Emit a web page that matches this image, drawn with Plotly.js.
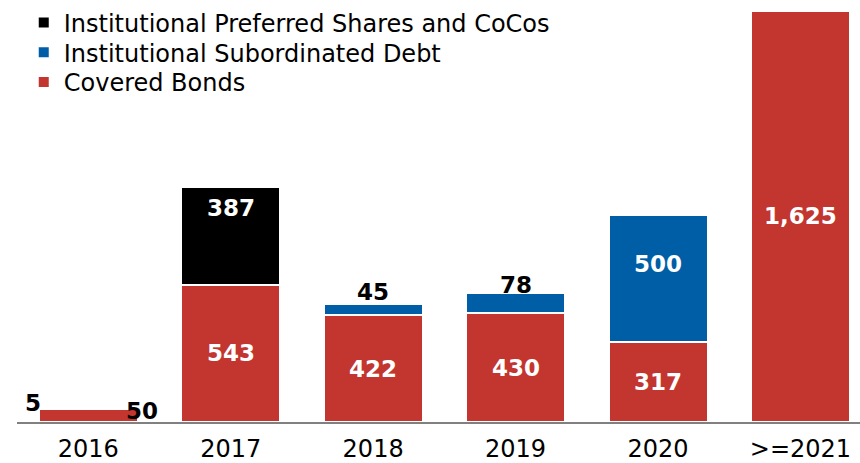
<!DOCTYPE html>
<html>
<head>
<meta charset="utf-8">
<script src="https://cdn.plot.ly/plotly-3.0.1.min.js"></script>
<style>html,body{margin:0;padding:0;background:#fff;}#chart{width:860px;height:463px;}</style>
</head>
<body>
<div id="chart"></div>
<script>
// ---- data ----
const categories = ['2016', '2017', '2018', '2019', '2020', '>=2021'];
const coveredBonds = [50, 543, 422, 430, 317, 1625];
const subordinatedDebt = [0, 0, 45, 78, 500, 0];
const preferredShares = [5, 387, 0, 0, 0, 0];
const seriesNames = ['Covered Bonds', 'Institutional Subordinated Debt', 'Institutional Preferred Shares and CoCos'];

// ---- styles ----
const colors = ['#C3352F', '#005EA6', '#000000'];
const FONT = 'DejaVu Sans, sans-serif';
const PLOT_H = 422;

function bar(name, y, color, legendId) {
  return {
    type: 'bar', name: name, x: categories, y: y,
    marker: {color: color, line: {color: '#ffffff', width: 2}},
    legend: legendId,
    hoverinfo: 'skip'
  };
}
const traces = [
  bar(seriesNames[0], coveredBonds, colors[0], 'legend3'),
  bar(seriesNames[1], subordinatedDebt, colors[1], 'legend2'),
  bar(seriesNames[2], preferredShares, colors[2], 'legend')
];

// ---- labels, positioned from data ----
const annotations = [];
function fmt(v) { return v.toLocaleString('en-US'); }
function lab(i, y, v, color, xshift, yshift) {
  annotations.push({
    x: i, y: y, xref: 'x', yref: 'y', text: '<b>' + fmt(v) + '</b>',
    showarrow: false, font: {family: FONT, size: 23, color: color},
    xshift: xshift, yshift: yshift, xanchor: 'center', yanchor: 'middle'
  });
}
categories.forEach((c, i) => {
  const cb = coveredBonds[i], sd = subordinatedDebt[i], ps = preferredShares[i];
  if (i === 0) {
    lab(i, cb / 2, cb, '#000', 54, 5);
    lab(i, cb + ps, ps, '#000', -55, 5);
    return;
  }
  if (cb) lab(i, cb / 2, cb, '#fff', 0, 0);
  if (sd) {
    if (sd < 100) lab(i, cb + sd, sd, '#000', 0, sd < 60 ? 12 : 8);
    else lab(i, cb + sd / 2, sd, '#fff', 0, 14);
  }
  if (ps) lab(i, cb + sd + ps / 2, ps, '#fff', 0, 28);
});

function legendAt(py) {
  return {
    x: 0.008, y: 1 - py / PLOT_H, xanchor: 'left', yanchor: 'middle',
    font: {family: FONT, size: 24, color: '#000'},
    bgcolor: 'rgba(0,0,0,0)', borderwidth: 0
  };
}

const layout = {
  width: 860, height: 463,
  margin: {l: 17, r: 0, t: 0, b: 41},
  paper_bgcolor: '#fff', plot_bgcolor: '#fff',
  barmode: 'stack', bargap: 0.305,
  showlegend: true,
  legend: legendAt(20),
  legend2: legendAt(50),
  legend3: legendAt(80),
  xaxis: {
    type: 'category', range: [-0.5, 5.418],
    showline: true, linecolor: '#808080', linewidth: 2,
    ticks: '', showgrid: false, zeroline: false,
    ticklabelstandoff: 4,
    tickfont: {family: FONT, size: 24, color: '#000'}
  },
  yaxis: {
    range: [0, 1655], visible: false, showgrid: false, zeroline: false
  },
  annotations: annotations,
  font: {family: FONT}
};

Plotly.newPlot('chart', traces, layout, {displayModeBar: false, staticPlot: true});
</script>
</body>
</html>
